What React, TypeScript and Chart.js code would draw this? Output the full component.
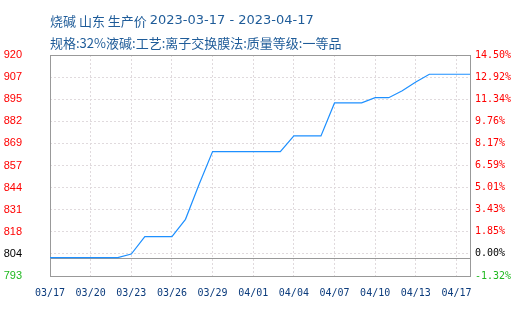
import React, { useEffect, useRef } from "react";
import { Chart, registerables } from "chart.js";

Chart.register(...registerables);

// Daily ex-works price, caustic soda (32% liquid), Shandong
const dates = [
  "03/17", "03/18", "03/19", "03/20", "03/21", "03/22", "03/23", "03/24",
  "03/25", "03/26", "03/27", "03/28", "03/29", "03/30", "03/31", "04/01",
  "04/02", "04/03", "04/04", "04/05", "04/06", "04/07", "04/08", "04/09",
  "04/10", "04/11", "04/12", "04/13", "04/14", "04/15", "04/16", "04/17",
];
const prices = [
  804, 804, 804, 804, 804, 804, 806, 816,
  816, 816, 826, 846, 865, 865, 865, 865,
  865, 865, 874, 874, 874, 893, 893, 893,
  896, 896, 900, 905, 909.5, 909.5, 909.5, 909.5,
];

const basePrice = 804;
const pctMin = -1.32;
const pctMax = 14.5;

const xTickLabels = [
  "03/17", "03/20", "03/23", "03/26", "03/29", "04/01",
  "04/04", "04/07", "04/10", "04/13", "04/17",
];
// bottom to top
const leftTickLabels = ["793", "804", "818", "831", "844", "857", "869", "882", "895", "907", "920"];
const rightTickLabels = [
  "-1.32%", "0.00%", "1.85%", "3.43%", "5.01%", "6.59%",
  "8.17%", "9.76%", "11.34%", "12.92%", "14.50%",
];

const titleName = "烧碱 山东 生产价 ";
const titleRange = "2023-03-17 - 2023-04-17";
const titleSpec = "规格:32%液碱:工艺:离子交换膜法:质量等级:一等品";

const yMin = basePrice * (1 + pctMin / 100);
const yMax = basePrice * (1 + pctMax / 100);

const labelColor = (i: number) => (i === 0 ? "#1fb81f" : i === 1 ? "#000000" : "#ff0000");

const evenTicks = (scale: any) => {
  const n = leftTickLabels.length - 1;
  const ticks = [];
  for (let i = 0; i <= n; i++) ticks.push({ value: yMin + ((yMax - yMin) * i) / n });
  scale.ticks = ticks;
};

const framePlugin = {
  id: "frame",
  beforeDatasetsDraw(chart: any) {
    const { ctx, chartArea: a, scales } = chart;
    ctx.save();
    ctx.strokeStyle = "#999999";
    ctx.lineWidth = 1;
    const y0 = Math.round(scales.y.getPixelForValue(basePrice)) + 0.5;
    ctx.beginPath();
    ctx.moveTo(a.left, y0);
    ctx.lineTo(a.right, y0);
    ctx.stroke();
    ctx.strokeRect(a.left + 0.5, a.top + 0.5, a.right - a.left, a.bottom - a.top);
    ctx.restore();
  },
  afterDraw(chart: any) {
    const { ctx, chartArea: a } = chart;
    ctx.save();
    ctx.fillStyle = "#1f5c99";
    ctx.textAlign = "left";
    ctx.textBaseline = "middle";
    ctx.font = '13px "Noto Sans CJK SC"';
    ctx.fillText(titleName, a.left, 21);
    const w = ctx.measureText(titleName).width;
    ctx.font = '13px "DejaVu Sans"';
    ctx.fillText(titleRange, a.left + w, 21);
    ctx.font = '13px "Noto Sans CJK SC"';
    ctx.fillText(titleSpec, a.left, 43);
    ctx.restore();
  },
};

export default function App() {
  const canvasRef = useRef<HTMLCanvasElement>(null);

  useEffect(() => {
    const canvas = canvasRef.current;
    if (!canvas) return;
    const chart = new Chart(canvas, {
      type: "line",
      data: {
        labels: dates,
        datasets: [
          {
            data: prices,
            borderColor: "#1e90ff",
            borderWidth: 1.2,
            pointRadius: 0,
            tension: 0,
            fill: false,
            yAxisID: "y",
          },
        ],
      },
      options: {
        animation: false,
        responsive: false,
        devicePixelRatio: 1,
        layout: { padding: { top: 55, left: 0, right: 0, bottom: 0 } },
        plugins: {
          legend: { display: false },
          tooltip: { enabled: false },
          title: { display: false },
        },
        scales: {
          x: {
            type: "category",
            offset: false,
            afterBuildTicks: (scale: any) => {
              scale.ticks = scale.ticks.filter((t: any) => t.value % 3 === 0);
            },
            afterFit: (scale: any) => {
              scale.height = 38;
            },
            grid: {
              offset: false,
              color: "#e0dadd",
              drawTicks: false,
            },
            border: { display: false, dash: [2, 2] },
            ticks: {
              autoSkip: false,
              maxRotation: 0,
              padding: 11,
              color: "#0b3b7c",
              font: { family: '"DejaVu Sans Mono"', size: 10 },
              callback: (value: any) => xTickLabels[Math.round(Number(value) / 3)],
            },
          },
          y: {
            type: "linear",
            position: "left",
            min: yMin,
            max: yMax,
            afterBuildTicks: evenTicks,
            afterFit: (scale: any) => {
              scale.width = 50;
            },
            grid: { color: "#e0dadd", drawTicks: false },
            border: { display: false, dash: [2, 2] },
            ticks: {
              padding: 28,
              font: { family: '"Liberation Sans"', size: 11 },
              color: (c: any) => labelColor(c.index),
              callback: (_v: any, i: number) => leftTickLabels[i],
            },
          },
          y2: {
            type: "linear",
            position: "right",
            min: yMin,
            max: yMax,
            afterBuildTicks: evenTicks,
            afterFit: (scale: any) => {
              scale.width = 51;
            },
            grid: { display: false, drawTicks: false },
            border: { display: false },
            ticks: {
              padding: 5,
              font: { family: '"DejaVu Sans Mono"', size: 10 },
              color: (c: any) => labelColor(c.index),
              callback: (_v: any, i: number) => rightTickLabels[i],
            },
          },
        },
      },
      plugins: [framePlugin],
    });
    return () => chart.destroy();
  }, []);

  return (
    <div style={{ position: "fixed", left: 0, top: 0, width: 521, height: 314, background: "#ffffff" }}>
      <canvas ref={canvasRef} width={521} height={314} style={{ display: "block" }} />
    </div>
  );
}
